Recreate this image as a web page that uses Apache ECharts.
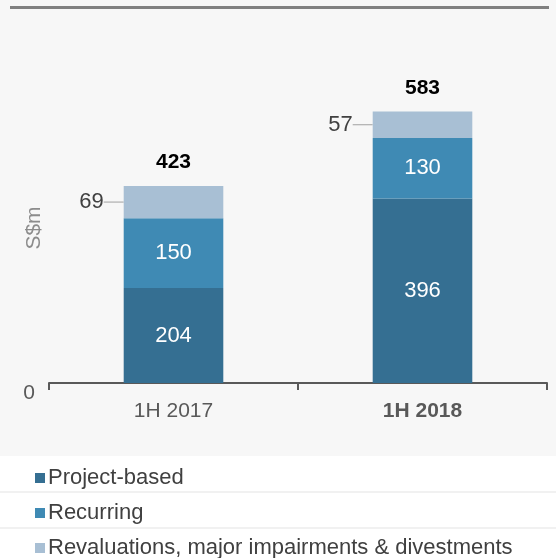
<!DOCTYPE html>
<html>
<head>
<meta charset="utf-8">
<script src="https://cdn.jsdelivr.net/npm/echarts@6/dist/echarts.min.js"></script>
<style>html,body{margin:0;padding:0;background:#fff;}#c{width:556px;height:558px;}</style>
</head>
<body>
<div id="c"></div>
<script>
const categories = ['1H 2017', '1H 2018'];
const projectBased = [204, 396];
const recurring = [150, 130];
const revaluations = [69, 57];
const totals = [423, 583];
const seriesNames = ['Project-based', 'Recurring', 'Revaluations, major impairments & divestments'];

const FONT = '"Liberation Sans", Arial, sans-serif';
const chart = echarts.init(document.getElementById('c'));
chart.setOption({
  backgroundColor: '#ffffff',
  animation: false,
  textStyle: { fontFamily: FONT },
  graphic: [
    { type: 'rect', z: -10, shape: { x: 0, y: 0, width: 556, height: 456 }, style: { fill: '#f7f7f7' } },
    { type: 'rect', z: 10, shape: { x: 10, y: 6, width: 539, height: 3 }, style: { fill: '#808080' } },
    { type: 'rect', z: -10, shape: { x: 0, y: 491, width: 556, height: 2 }, style: { fill: '#f1f1f1' } },
    { type: 'rect', z: -10, shape: { x: 0, y: 527, width: 556, height: 2 }, style: { fill: '#f1f1f1' } }
  ],
  grid: { left: 49, right: 9, top: 57, bottom: 175, containLabel: false, outerBoundsMode: 'none' },
  legend: {
    orient: 'vertical', left: 30, top: 462, height: 100, itemWidth: 10, itemHeight: 10, itemGap: 13,
    icon: 'rect', data: seriesNames,
    textStyle: { fontSize: 22, lineHeight: 22, color: '#404040', fontFamily: FONT, padding: [0, 0, 0, -2] }
  },
  xAxis: {
    type: 'category', data: categories,
    axisLine: { lineStyle: { color: '#595959', width: 2 } },
    axisTick: { show: true, length: 7, lineStyle: { color: '#595959', width: 2 } },
    axisLabel: {
      margin: 18, fontSize: 21, color: '#595959',
      formatter: (v, i) => i === 1 ? '{b|' + v + '}' : v,
      rich: { b: { fontWeight: 'bold', fontSize: 21, color: '#595959' } }
    }
  },
  yAxis: {
    type: 'value', min: 0, max: 700, interval: 700,
    name: 'S$m', nameLocation: 'middle', nameRotate: 90, nameGap: 4, nameMoveOverlap: false,
    nameTextStyle: { fontSize: 21, color: '#8c8c8c', lineHeight: 21, padding: [0, 16, 0, 0] },
    axisLine: { show: false }, axisTick: { show: false }, splitLine: { show: false },
    axisLabel: { fontSize: 21, color: '#595959', margin: 14, verticalAlign: 'top', formatter: v => v === 0 ? '0' : '' }
  },
  series: [
    {
      name: seriesNames[0], type: 'bar', stack: 'a', barWidth: '40%', data: projectBased,
      itemStyle: { color: '#356f92' },
      label: { show: true, position: 'inside', color: '#ffffff', fontSize: 22 }
    },
    {
      name: seriesNames[1], type: 'bar', stack: 'a', data: recurring,
      itemStyle: { color: '#3f8ab4' },
      label: { show: true, position: 'inside', color: '#ffffff', fontSize: 22 }
    },
    {
      name: seriesNames[2], type: 'bar', stack: 'a', data: revaluations,
      itemStyle: { color: '#a8bfd4' },
      label: { show: true, position: 'left', distance: 4, color: '#404040', fontSize: 22 },
      labelLayout: { dx: -16 },
      labelLine: { show: true, length2: 0, lineStyle: { color: '#a0a0a0', width: 1 } }
    },
    {
      name: 'Total', type: 'bar', stack: 'a', data: totals.map(() => 0),
      itemStyle: { color: 'transparent' },
      label: { show: true, position: 'top', distance: 13, color: '#000000', fontSize: 21, fontWeight: 'bold',
        formatter: p => String(totals[p.dataIndex]) }
    }
  ]
});
</script>
</body>
</html>
